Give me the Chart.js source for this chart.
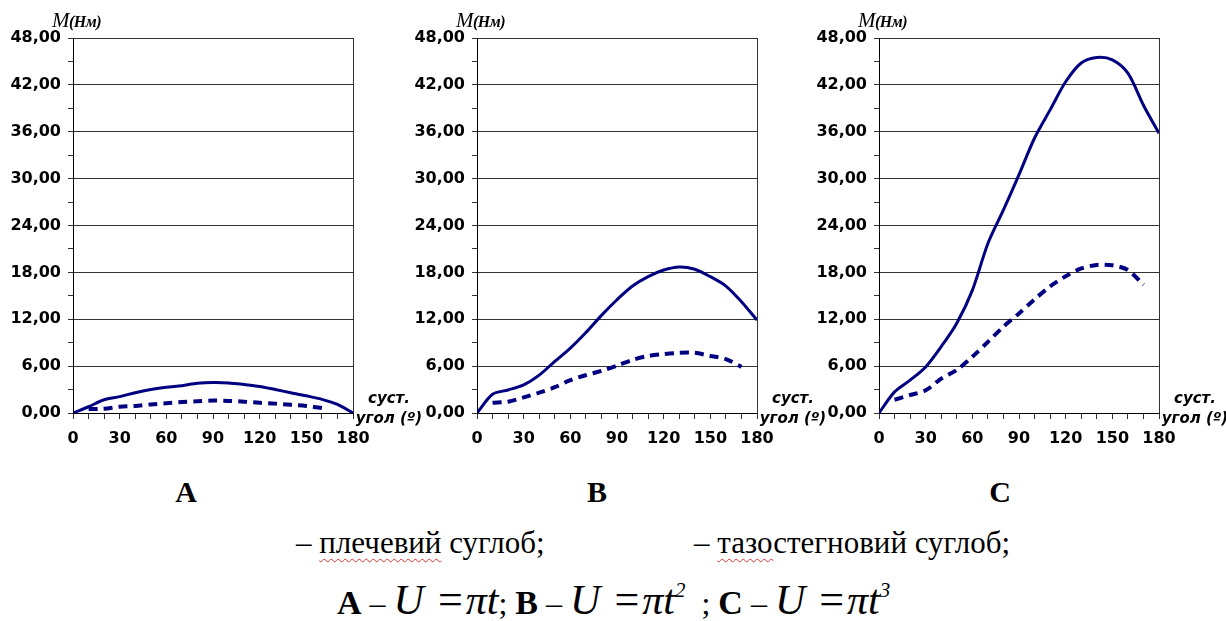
<!DOCTYPE html>
<html lang="uk">

<head>
    <meta charset="UTF-8" />
    <title>M(Нм) – суст. угол</title>
    <script src="https://cdn.jsdelivr.net/npm/chart.js"></script>
    <style>
        body { margin: 0; background: #fff; width: 1226px; height: 621px; overflow: hidden; position: relative; }
        canvas { position: absolute; top: 0; }
        .txt { position: absolute; white-space: nowrap; color: #000; }
        .ylab { font-family: "Liberation Serif", serif; font-style: italic; font-size: 21px; top: 8px; letter-spacing: -0.5px; }
        .ylab small { font-size: 16px; font-weight: bold; }
        .xlab { font-family: "DejaVu Sans", sans-serif; font-weight: bold; font-style: italic; font-size: 15px;
            line-height: 20px; text-align: center; width: 90px; top: 388px; }
        .panel { font-family: "Liberation Serif", serif; font-weight: bold; font-size: 30px; line-height: 30px;
            width: 100px; text-align: center; top: 477px; }
        .legend { font-family: "Liberation Serif", serif; font-size: 31px; line-height: 30px; top: 528px; }
        .spell { text-decoration: underline wavy #e03030; text-decoration-thickness: 1px; text-underline-offset: 5px; }
        #formula { font-family: "Liberation Serif", serif; font-size: 32px; line-height: 40px; top: 580px; left: 337px; }
        #formula b { font-size: 34px; }
        #formula .m { font-size: 42px; }
        #formula .eq { font-size: 44px; margin: 0 3px 0 14px; }
        #formula sup { font-size: 21px; font-style: italic; vertical-align: 17px; line-height: 0; }
        #formula .tw { text-decoration: underline wavy #4a6fd0; text-decoration-thickness: 1px; text-underline-offset: 6px; }
    </style>
</head>

<body>
    <canvas id="chartA" width="400" height="460" style="left:0px"></canvas>
    <canvas id="chartB" width="400" height="460" style="left:404px"></canvas>
    <canvas id="chartC" width="420" height="460" style="left:806px"></canvas>

    <div class="txt ylab" style="left:52px"><i>M</i><small>(Нм)</small></div>
    <div class="txt ylab" style="left:456px"><i>M</i><small>(Нм)</small></div>
    <div class="txt ylab" style="left:858px"><i>M</i><small>(Нм)</small></div>

    <div class="txt xlab" style="left:344px">суст.<br>угол (º)</div>
    <div class="txt xlab" style="left:748px">суст.<br>угол (º)</div>
    <div class="txt xlab" style="left:1150px">суст.<br>угол (º)</div>

    <div class="txt panel" style="left:136px">A</div>
    <div class="txt panel" style="left:547px">B</div>
    <div class="txt panel" style="left:950px">C</div>

    <div class="txt legend" style="left:296px">– <span class="spell">плечевий</span> суглоб;</div>
    <div class="txt legend" style="left:694px">– <span class="spell">тазо</span>стегновий суглоб;</div>

    <div class="txt" id="formula"><b>A</b> – <i class="m">U</i><span class="eq">=</span><i class="m">π<span class="tw">t</span></i>; <b>B</b> – <i class="m">U</i><span class="eq">=</span><i class="m">πt</i><sup>2</sup>&nbsp; ; <b>C</b> – <i class="m">U</i><span class="eq">=</span><i class="m">πt</i><sup>3</sup></div>

    <script>
        // суглобовий кут, градуси
        const angles = [0, 10, 20, 30, 40, 50, 60, 70, 80, 90, 100, 110, 120, 130, 140, 150, 160, 170, 180];
        const xTicks = [0, 30, 60, 90, 120, 150, 180];
        const yTicks = [0, 6, 12, 18, 24, 30, 36, 42, 48];

        // A: U = πt
        const shoulderA = [0, 0.8, 1.7, 2.1, 2.6, 3.0, 3.3, 3.5, 3.8, 3.9, 3.85, 3.65, 3.4, 3.0, 2.6, 2.2, 1.75, 1.1, 0];
        const hipA = [null, 0.5, 0.55, 0.8, 0.9, 1.1, 1.25, 1.4, 1.5, 1.6, 1.55, 1.45, 1.3, 1.2, 1.05, 0.9, 0.65, null, null];

        // B: U = πt^2
        const shoulderB = [0, 2.4, 2.95, 3.6, 4.85, 6.6, 8.3, 10.3, 12.5, 14.5, 16.25, 17.45, 18.3, 18.7, 18.4, 17.45, 16.25, 14.25, 11.9];
        const hipB = [null, 1.3, 1.45, 2.0, 2.6, 3.3, 4.2, 4.85, 5.4, 6.05, 6.8, 7.3, 7.55, 7.7, 7.7, 7.3, 6.9, 5.9, null];

        // C: U = πt^3
        const shoulderC = [0, 2.7, 4.2, 5.9, 8.5, 11.5, 15.7, 21.7, 26.0, 30.5, 35.2, 38.8, 42.4, 44.8, 45.5, 45.2, 43.5, 39.4, 35.8];
        const hipC = [null, 1.7, 2.3, 2.9, 4.4, 5.5, 7.2, 9.1, 11.05, 12.75, 14.55, 16.2, 17.5, 18.5, 18.95, 18.9, 18.3, 16.4, null];

        const navy = "#000080";
        const gridDark = "#333333";
        const tickFont = { family: "DejaVu Sans", size: 16, weight: "bold" };

        function points(values) {
            return angles.map((a, i) => ({ x: a, y: values[i] }));
        }

        function makeChart(id, solid, dashed, padRight) {
            new Chart(document.getElementById(id), {
                type: "line",
                data: {
                    datasets: [
                        {
                            label: "плечевий суглоб",
                            data: points(solid),
                            borderColor: navy,
                            borderWidth: 3,
                            pointRadius: 0,
                            tension: 0.3,
                        },
                        {
                            label: "тазостегновий суглоб",
                            data: points(dashed),
                            borderColor: navy,
                            borderWidth: 4,
                            borderDash: [9, 6],
                            pointRadius: 0,
                            tension: 0.3,
                        },
                    ],
                },
                options: {
                    responsive: false,
                    animation: false,
                    layout: { padding: { top: 38, right: padRight, bottom: 0, left: 0 } },
                    plugins: { legend: { display: false }, tooltip: { enabled: false } },
                    scales: {
                        x: {
                            type: "linear",
                            min: 0,
                            max: 180,
                            afterFit: (s) => { s.height = 47; },
                            ticks: {
                                stepSize: 10,
                                autoSkip: false,
                                maxRotation: 0,
                                padding: 10,
                                color: "#000",
                                font: tickFont,
                                callback: (v) => (xTicks.includes(v) ? String(v) : ""),
                            },
                            grid: {
                                color: (c) => (c.tick && c.tick.value === 180 ? gridDark : "rgba(0,0,0,0)"),
                                tickColor: gridDark,
                                tickLength: 6,
                            },
                            border: { color: "#000", width: 1 },
                        },
                        y: {
                            min: 0,
                            max: 48,
                            afterFit: (s) => { s.width = 73; },
                            ticks: {
                                stepSize: 3,
                                autoSkip: false,
                                padding: 7,
                                color: "#000",
                                font: tickFont,
                                callback: (v) => (yTicks.includes(v) ? v.toFixed(2).replace(".", ",") : ""),
                            },
                            grid: {
                                color: (c) => (c.tick && yTicks.includes(c.tick.value) ? gridDark : "rgba(0,0,0,0)"),
                                tickColor: gridDark,
                                tickLength: 5,
                            },
                            border: { color: "#000", width: 1 },
                        },
                    },
                },
            });
        }

        makeChart("chartA", shoulderA, hipA, 47);
        makeChart("chartB", shoulderB, hipB, 47);
        makeChart("chartC", shoulderC, hipC, 67);
    </script>
</body>

</html>
